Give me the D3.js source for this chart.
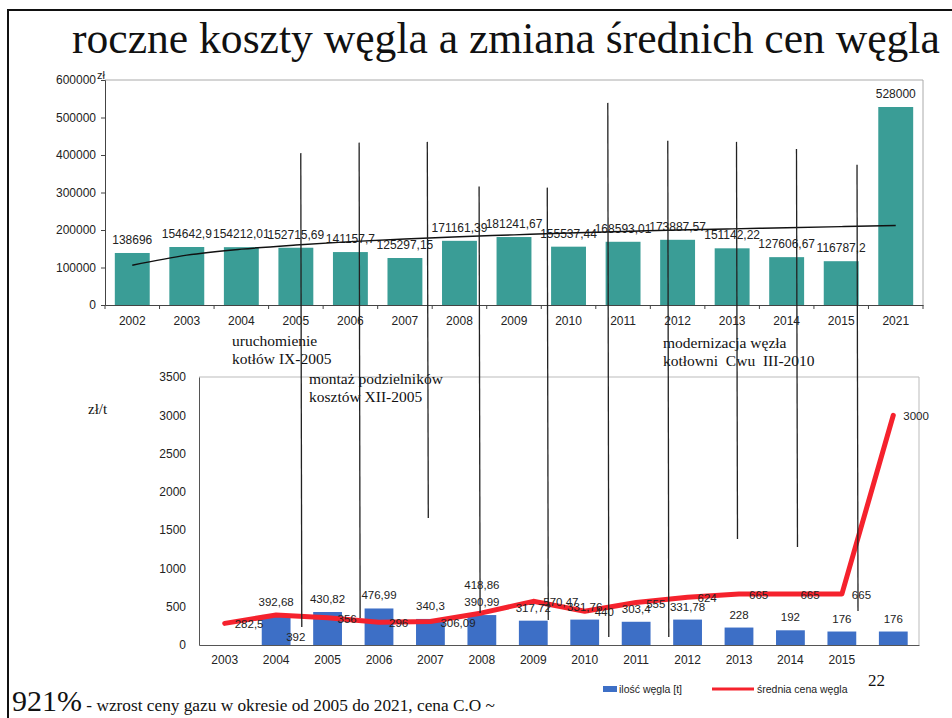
<!DOCTYPE html>
<html>
<head>
<meta charset="utf-8">
<script src="https://cdn.jsdelivr.net/npm/d3@7"></script>
<style>
  body { margin: 0; background: #fff; }
  svg { display: block; }
</style>
</head>
<body>
<script>
// roczne koszty (top chart)
var years = ["2002", "2003", "2004", "2005", "2006", "2007", "2008", "2009",
             "2010", "2011", "2012", "2013", "2014", "2015", "2021"];
var costs = [138696, 154642.9, 154212.01, 152715.69, 141157.7, 125297.15, 171161.39,
             181241.67, 155537.44, 168593.01, 173887.57, 151142.22, 127606.67, 116787.2, 528000];
var costTrend = [106000, 133000, 149000, 160000, 169000, 176000, 182000, 187000,
                 192000, 196000, 200000, 203000, 206000, 209000, 212000];
var costTicks = [0, 100000, 200000, 300000, 400000, 500000, 600000];

// ilość i cena węgla (bottom chart)
var years2 = ["2003", "2004", "2005", "2006", "2007", "2008", "2009", "2010",
              "2011", "2012", "2013", "2014", "2015", ""];
var coalAmount = [null, 392.68, 430.82, 476.99, 340.3, 390.99, 317.72, 331.76,
                  303.4, 331.78, 228, 192, 176, 176];
var coalPrice = [282.5, 392, 356, 296, 306.09, 418.86, 570.47, 440,
                 555, 624, 665, 665, 665, 3000];
var priceTicks = [0, 500, 1000, 1500, 2000, 2500, 3000, 3500];

// hand-drawn marker lines: position in top-chart band units, top end in zł, bottom end in zł/t
var markerAt = [3.59, 4.66, 5.91, 6.86, 8.11, 9.22, 10.32, 11.58, 12.68, 13.79];
var markerTop = [405000, 433000, 435000, 316000, 313000, 539000, 438000, 435000, 416000, 374000];
var markerBottom = [235, 352, 1658, 418, 326, 104, 104, 1384, 1279, 444];

var sans = "'Liberation Sans', Arial, sans-serif";
var serif = "'Liberation Serif', 'Times New Roman', serif";
var fmt = function(v) { return String(v).replace(".", ","); };

var svg = d3.select("body").append("svg")
            .attr("width", 952)
            .attr("height", 718);

// frame
svg.append("path")
   .attr("d", "M8,718V10H952")
   .attr("fill", "none")
   .attr("stroke", "#111")
   .attr("stroke-width", 2);

svg.append("text")
   .attr("x", 72)
   .attr("y", 53)
   .style("font-family", serif)
   .style("font-size", "43.6px")
   .attr("fill", "#111")
   .text("roczne koszty węgla a zmiana średnich cen węgla");

// ---------- top chart ----------
var x1 = d3.scaleBand().domain(years).range([105, 923]).paddingInner(0.36).paddingOuter(0.18);
var y1 = d3.scaleLinear().domain([0, 600000]).range([305, 80]);

svg.append("path")
   .attr("d", "M105,80H923V305")
   .attr("fill", "none")
   .attr("stroke", "#aaa");

svg.selectAll(".costBar")
   .data(costs)
   .enter()
   .append("rect")
   .attr("class", "costBar")
   .attr("x", function(d, i) { return x1(years[i]); })
   .attr("width", x1.bandwidth())
   .attr("y", function(d) { return y1(d); })
   .attr("height", function(d) { return y1(0) - y1(d); })
   .attr("fill", "#3a9d96");

var yAxis1 = svg.append("g")
   .attr("transform", "translate(105,0)")
   .call(d3.axisLeft(y1).tickValues(costTicks).tickFormat(d3.format("d")).tickSize(4).tickPadding(5));
yAxis1.selectAll("text").style("font-family", sans).style("font-size", "12px").attr("fill", "#222");
yAxis1.selectAll("line, path").attr("stroke", "#444");

var xAxis1 = svg.append("g")
   .attr("transform", "translate(0,305)")
   .call(d3.axisBottom(x1).tickSize(0).tickPadding(11));
xAxis1.selectAll("text").style("font-family", sans).style("font-size", "12px").attr("fill", "#222");
xAxis1.select("path").attr("stroke", "#444");

svg.selectAll(".costTick")
   .data(years.concat(["end"]))
   .enter()
   .append("line")
   .attr("class", "costTick")
   .attr("x1", function(d, i) { return 105 + i * x1.step(); })
   .attr("x2", function(d, i) { return 105 + i * x1.step(); })
   .attr("y1", 305)
   .attr("y2", 309)
   .attr("stroke", "#444");

svg.selectAll(".costLabel")
   .data(costs)
   .enter()
   .append("text")
   .attr("class", "costLabel")
   .attr("x", function(d, i) { return x1(years[i]) + x1.bandwidth() / 2; })
   .attr("y", function(d) { return y1(d) - 9; })
   .attr("text-anchor", "middle")
   .style("font-family", sans)
   .style("font-size", "12px")
   .attr("fill", "#222")
   .text(fmt);

var trendLine = d3.line()
   .curve(d3.curveMonotoneX)
   .x(function(d, i) { return x1(years[i]) + x1.bandwidth() / 2; })
   .y(function(d) { return y1(d); });

svg.append("path")
   .datum(costTrend)
   .attr("d", trendLine)
   .attr("fill", "none")
   .attr("stroke", "#111")
   .attr("stroke-width", 1.5);

svg.append("text")
   .attr("x", 97)
   .attr("y", 79)
   .style("font-family", sans)
   .style("font-size", "11px")
   .attr("fill", "#222")
   .text("zł");

// ---------- bottom chart ----------
var idx2 = d3.range(years2.length);
var x2 = d3.scaleBand().domain(idx2).range([199, 919]).paddingInner(0.44).paddingOuter(0.22);
var y2 = d3.scaleLinear().domain([0, 3500]).range([645, 377]);
var cx2 = function(i) { return x2(i) + x2.bandwidth() / 2; };
var barIdx = idx2.filter(function(i) { return coalAmount[i] !== null; });

svg.append("path")
   .attr("d", "M199,377H919V645")
   .attr("fill", "none")
   .attr("stroke", "#bbb");

var yAxis2 = svg.append("g")
   .attr("transform", "translate(199,0)")
   .call(d3.axisLeft(y2).tickValues(priceTicks).tickFormat(d3.format("d")).tickSize(0).tickPadding(13));
yAxis2.selectAll("text").style("font-family", sans).style("font-size", "12px").attr("fill", "#222");
yAxis2.select("path").attr("stroke", "#555");

var xAxis2 = svg.append("g")
   .attr("transform", "translate(0,645)")
   .call(d3.axisBottom(x2).tickSize(0).tickPadding(10).tickFormat(function(i) { return years2[i]; }));
xAxis2.selectAll("text").style("font-family", sans).style("font-size", "12px").attr("fill", "#222");
xAxis2.select("path").attr("stroke", "#555");

svg.selectAll(".coalBar")
   .data(barIdx)
   .enter()
   .append("rect")
   .attr("class", "coalBar")
   .attr("x", function(i) { return x2(i); })
   .attr("width", x2.bandwidth())
   .attr("y", function(i) { return y2(coalAmount[i]); })
   .attr("height", function(i) { return y2(0) - y2(coalAmount[i]); })
   .attr("fill", "#3d6fc6");

var priceLine = d3.line()
   .x(function(d, i) { return cx2(i); })
   .y(function(d) { return y2(d); });

svg.append("path")
   .datum(coalPrice)
   .attr("d", priceLine)
   .attr("fill", "none")
   .attr("stroke", "#f5222d")
   .attr("stroke-width", 5)
   .attr("stroke-linejoin", "round")
   .attr("stroke-linecap", "round");

svg.selectAll(".coalLabel")
   .data(barIdx)
   .enter()
   .append("text")
   .attr("class", "coalLabel")
   .attr("x", function(i) { return cx2(i); })
   .attr("y", function(i) { return y2(coalAmount[i]) - 9; })
   .attr("text-anchor", "middle")
   .style("font-family", sans)
   .style("font-size", "11.5px")
   .attr("fill", "#222")
   .text(function(i) { return fmt(coalAmount[i]); });

svg.selectAll(".priceLabel")
   .data(coalPrice)
   .enter()
   .append("text")
   .attr("class", "priceLabel")
   .attr("x", function(d, i) {
       if (years2[i] === "2008") return cx2(i);
       return cx2(i) + 10;
   })
   .attr("y", function(d, i) {
       if (years2[i] === "2004") return y2(d) + 26;
       if (years2[i] === "2008") return y2(d) - 24;
       return y2(d) + 5;
   })
   .attr("text-anchor", function(d, i) { return years2[i] === "2008" ? "middle" : "start"; })
   .style("font-family", sans)
   .style("font-size", "11.5px")
   .attr("fill", "#222")
   .text(fmt);

svg.append("text")
   .attr("x", 88)
   .attr("y", 414)
   .style("font-family", serif)
   .style("font-size", "15px")
   .attr("fill", "#111")
   .text("zł/t");

// legend
svg.append("rect").attr("x", 603).attr("y", 686).attr("width", 14).attr("height", 6).attr("fill", "#3d6fc6");
svg.append("text").attr("x", 619).attr("y", 693)
   .style("font-family", sans).style("font-size", "10.5px").attr("fill", "#222")
   .text("ilość węgla [t]");
svg.append("line").attr("x1", 712).attr("x2", 754).attr("y1", 689).attr("y2", 689)
   .attr("stroke", "#f5222d").attr("stroke-width", 3);
svg.append("text").attr("x", 757).attr("y", 693)
   .style("font-family", sans).style("font-size", "10.5px").attr("fill", "#222")
   .text("średnia cena węgla");

svg.append("text").attr("x", 868).attr("y", 686)
   .style("font-family", serif).style("font-size", "17px").attr("fill", "#111")
   .text("22");

// annotations
var notes = [
  { x: 232, y: 346, t: "uruchomienie" },
  { x: 232, y: 364, t: "kotłów IX-2005" },
  { x: 309, y: 384, t: "montaż podzielników" },
  { x: 309, y: 402, t: "kosztów XII-2005" },
  { x: 663, y: 348, t: "modernizacja węzła" },
  { x: 663, y: 366, t: "kotłowni  Cwu  III-2010" }
];
svg.selectAll(".note")
   .data(notes)
   .enter()
   .append("text")
   .attr("class", "note")
   .attr("x", function(d) { return d.x; })
   .attr("y", function(d) { return d.y; })
   .style("font-family", serif)
   .style("font-size", "15.5px")
   .style("white-space", "pre")
   .attr("fill", "#111")
   .text(function(d) { return d.t; });

// marker lines across both charts
svg.selectAll(".marker")
   .data(markerAt)
   .enter()
   .append("line")
   .attr("class", "marker")
   .attr("x1", function(d) { return 105 + d * x1.step(); })
   .attr("x2", function(d) { return 105 + d * x1.step() + 1; })
   .attr("y1", function(d, i) { return y1(markerTop[i]); })
   .attr("y2", function(d, i) { return y2(markerBottom[i]); })
   .attr("stroke", "#222")
   .attr("stroke-width", 1.3);

// footer
var foot = svg.append("text").attr("x", 12).attr("y", 711).style("font-family", serif).attr("fill", "#111");
foot.append("tspan").style("font-size", "30px").text("921%");
foot.append("tspan").style("font-size", "17.3px").text(" - wzrost ceny gazu w okresie od 2005 do 2021, cena C.O ~");
</script>
</body>
</html>
